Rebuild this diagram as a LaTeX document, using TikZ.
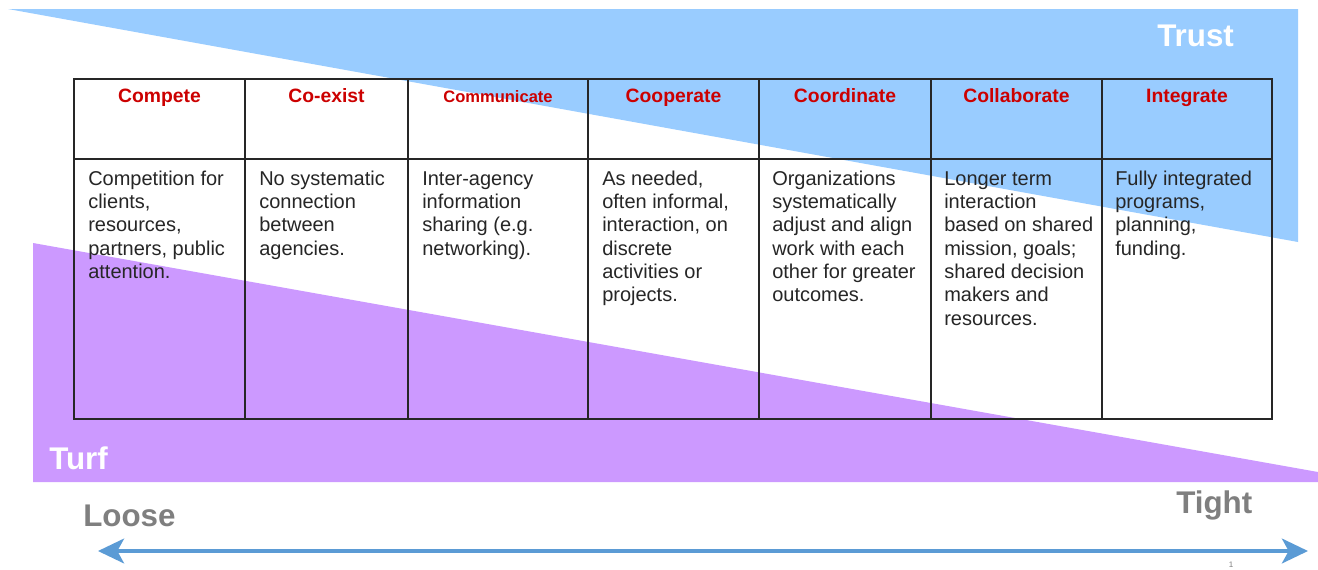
\documentclass[tikz,border=0pt]{standalone}
\usepackage{fontspec}
\setmainfont{Liberation Sans}
\usetikzlibrary{arrows.meta}
\definecolor{trustblue}{HTML}{99CCFF}
\definecolor{turfpurple}{HTML}{CC99FF}
\definecolor{headred}{HTML}{CC0000}
\definecolor{bodygray}{HTML}{262626}
\definecolor{labelgray}{HTML}{7F7F7F}
\definecolor{arrowblue}{HTML}{5B9BD5}
\newcommand\cellbox[1]{\parbox[t]{200pt}{\raggedright #1}}
\begin{document}
\begin{tikzpicture}[x=0.75pt,y=-0.75pt,
  head/.style={font=\fontsize{14.5}{17}\selectfont\bfseries, text=headred, anchor=base, inner sep=0},
  body/.style={font=\fontsize{15}{17.5}\selectfont, text=bodygray, anchor=base west, inner sep=0},
  biglabel/.style={font=\fontsize{23.5}{27}\selectfont\bfseries, anchor=base west, inner sep=0},
  gridline/.style={line width=0.9pt, draw=black!85},
  borderline/.style={line width=1.9pt, draw=black!85, line cap=rect},
  axisarrow/.style={line width=3pt, draw=arrowblue, {Stealth[length=19.5pt,width=18.5pt,inset=5pt]}-{Stealth[length=19.5pt,width=18.5pt,inset=5pt]}},
]
\useasboundingbox (0,0) rectangle (1318,569);
\fill[white] (0,0) rectangle (1318,569);
% triangles
\fill[trustblue] (8,9) -- (1298,9) -- (1298,242) -- cycle;
\fill[turfpurple] (33,243) -- (1318,472) -- (1318,482) -- (33,482) -- cycle;
% table grid
\foreach \x in {245,408,588,759,931,1102} \draw[gridline] (\x,79) -- (\x,419);
\draw[gridline] (74,159) -- (1272,159);
\draw[borderline] (74,79) rectangle (1272,419);
% headers
\node[head] (h1) at (159.5,102) {Compete};
\node[head] (h2) at (326.5,102) {Co-exist};
\node[head, font=\fontsize{12.4}{15}\selectfont\bfseries] (h3) at (498,102) {Communicate};
\node[head] (h4) at (673.5,102) {Cooperate};
\node[head] (h5) at (845,102) {Coordinate};
\node[head] (h6) at (1016.5,102) {Collaborate};
\node[head] (h7) at (1187,102) {Integrate};
% bodies
\node[body] (b1) at (88,185) {\cellbox{Competition for\\clients,\\resources,\\partners, public\\attention.}};
\node[body] (b2) at (259,185) {\cellbox{No systematic\\connection\\between\\agencies.}};
\node[body] (b3) at (422,185) {\cellbox{Inter-agency\\information\\sharing (e.g.\\networking).}};
\node[body] (b4) at (602,185) {\cellbox{As needed,\\often informal,\\interaction, on\\discrete\\activities or\\projects.}};
\node[body] (b5) at (772,185) {\cellbox{Organizations\\systematically\\adjust and align\\work with each\\other for greater\\outcomes.}};
\node[body] (b6) at (944,185) {\cellbox{Longer term\\interaction\\based on shared\\mission, goals;\\shared decision\\makers and\\resources.}};
\node[body] (b7) at (1115,185) {\cellbox{Fully integrated\\programs,\\planning,\\funding.}};
% labels
\node[biglabel, text=white] (trust) at (1157,46) {Trust};
\node[biglabel, text=white] (turf) at (49,469) {Turf};
\node[biglabel, text=labelgray] (loose) at (83,526) {Loose};
\node[biglabel, text=labelgray] (tight) at (1176,513) {Tight};
% axis arrow
\coordinate (axL) at (98,551);
\coordinate (axR) at (1308,551);
\draw[axisarrow] (axL) -- (axR);
\node[font=\fontsize{6}{7}\selectfont, text=labelgray, anchor=north, inner sep=0] (pg) at (1231,562) {1};
\end{tikzpicture}
\end{document}
